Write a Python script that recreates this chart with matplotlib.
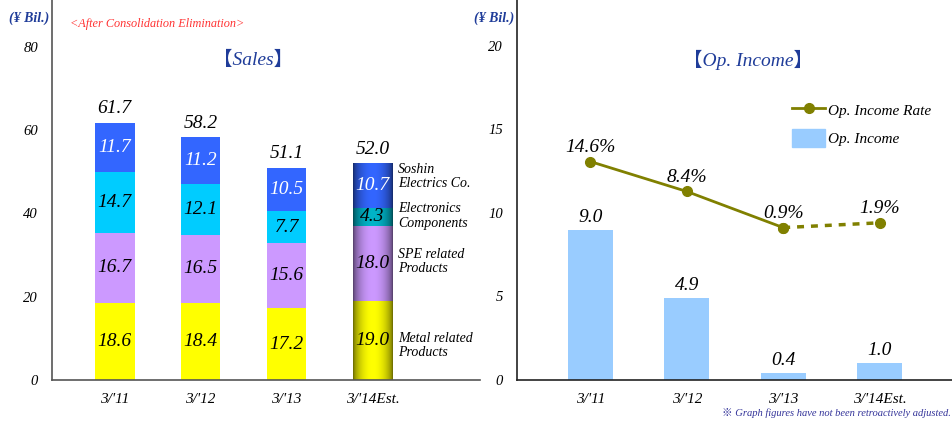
import numpy as np
import matplotlib
matplotlib.use("Agg")
import matplotlib.pyplot as plt
import matplotlib.colors as mcolors
from matplotlib.patches import Patch
from matplotlib.lines import Line2D

plt.rcParams['font.family'] = ['Liberation Serif', 'Noto Sans CJK JP', 'DejaVu Sans']
plt.rcParams['font.style'] = 'italic'

### data
years = ["3/'11", "3/'12", "3/'13", "3/'14Est."]
metal = [18.6, 18.4, 17.2, 19.0]
spe = [16.7, 16.5, 15.6, 18.0]
electronics = [14.7, 12.1, 7.7, 4.3]
soshin = [11.7, 11.2, 10.5, 10.7]
sales_total = [61.7, 58.2, 51.1, 52.0]

op_income = [9.0, 4.9, 0.4, 1.0]
op_rate = [14.6, 8.4, 0.9, 1.9]

segments = [metal, spe, electronics, soshin]
seg_colors = ['#FFFF00', '#CC99FF', '#00CCFF', '#3366FF']
est_colors = ['#FFFF00', '#CC99FF', '#00B4C8', '#3366FF']
seg_text = ['black', 'black', 'black', 'white']
seg_names = ['Metal related\nProducts', 'SPE related\nProducts',
             'Electronics\nComponents', 'Soshin\nElectrics Co.']
seg_name_shift = [-1.2, 0.5, 0.2, 2.2]

navy = '#1F3C99'
olive = '#808000'
IT = dict(fontstyle='italic')


def shade_bar(ax, rect, color):
    # cylinder-like shading: dark at both edges, bright in the middle
    rgb = np.array(mcolors.to_rgb(color))
    t = np.linspace(-1, 1, 80)
    k = 0.4 + 0.6 * np.cos(t * np.pi / 2) ** 0.6
    img = (rgb[None, :] * k[:, None])[None, :, :]
    x0, y0 = rect.get_x(), rect.get_y()
    im = ax.imshow(img, extent=(x0, x0 + rect.get_width(), y0, y0 + rect.get_height()),
                   aspect='auto', zorder=rect.get_zorder() + 0.1, interpolation='bilinear')
    im.set_clip_path(rect)


fig = plt.figure(figsize=(9.53, 4.23), dpi=100)
axL = fig.add_axes([52 / 953, 43 / 423, 428 / 953, 380 / 423])
axR = fig.add_axes([517 / 953, 43 / 423, 435 / 953, 380 / 423])

### Sales, stacked
x = np.arange(len(years))
w = 0.46
bottom = np.zeros(len(years))
for i, vals in enumerate(segments):
    bars = axL.bar(x, vals, w, bottom=bottom, color=seg_colors[i], zorder=2)
    for j, b in enumerate(bars):
        if j == len(years) - 1:
            b.set_facecolor('none')
            shade_bar(axL, b, est_colors[i])
        axL.text(b.get_x() + b.get_width() / 2, bottom[j] + vals[j] / 2, f"{vals[j]:.1f}",
                 ha='center', va='center', fontsize=14, color=seg_text[i], zorder=5, **IT)
    last = bars[-1]
    axL.annotate(seg_names[i], (last.get_x() + last.get_width(), bottom[-1] + vals[-1] / 2 + seg_name_shift[i]),
                 xytext=(4, 0), textcoords='offset points', ha='left', va='center',
                 fontsize=10, linespacing=1.15, **IT)
    bottom += np.array(vals)

for j, tot in enumerate(sales_total):
    axL.annotate(f"{tot:.1f}", (x[j], bottom[j]), xytext=(0, 4), textcoords='offset points',
                 ha='center', va='bottom', fontsize=14, **IT)

axL.set_xlim(-0.73, 4.25)
axL.set_ylim(0, 91.2)
axL.set_yticks([0, 20, 40, 60, 80])
axL.set_xticks(x)
axL.set_xticklabels(years, fontsize=11, **IT)
axL.text(0.47, 0.842, "【Sales】", transform=axL.transAxes, ha='center', va='center',
         fontsize=14, color=navy, **IT)

### Op. income, bars + rate line
xr = np.arange(len(years))
bars = axR.bar(xr, op_income, 0.47, color='#99CCFF', zorder=2)
for b, v in zip(bars, op_income):
    axR.annotate(f"{v:.1f}", (b.get_x() + b.get_width() / 2, v), xytext=(0, 3),
                 textcoords='offset points', ha='center', va='bottom', fontsize=14, **IT)
axR.set_xlim(-0.76, 3.75)
axR.set_ylim(0, 22.75)
axR.set_yticks([0, 5, 10, 15, 20])
axR.set_xticks(xr)
axR.set_xticklabels(years, fontsize=11, **IT)
axR.text(0.531, 0.842, "【Op. Income】", transform=axR.transAxes, ha='center', va='center',
         fontsize=14, color=navy, **IT)

axT = axR.twinx()
axT.set_ylim(-30.7, 48.1)
axT.axis('off')
axT.plot(xr[:3], op_rate[:3], color=olive, lw=2, marker='o', ms=7, zorder=4)
axT.plot(xr[2:], op_rate[2:], color=olive, lw=2.5, ls=(0, (2, 2)), marker='o', ms=7, zorder=4)
for xi, r in zip(xr, op_rate):
    axT.annotate(f"{r:.1f}%", (xi, r), xytext=(0, 4), textcoords='offset points',
                 ha='center', va='bottom', fontsize=14, **IT)

handles = [Line2D([], [], color=olive, lw=2, marker='o', ms=7),
           Patch(color='#99CCFF')]
axT.legend(handles, ['Op. Income Rate', 'Op. Income'], loc='upper left',
           bbox_to_anchor=(0.6, 0.77), frameon=False,
           prop=dict(family=['Liberation Serif'], style='italic', size=11),
           handlelength=2.2, handleheight=1.4, labelspacing=0.7, handletextpad=0.2)

for ax, c in ((axL, '#555555'), (axR, '#222222')):
    ax.spines[['top', 'right']].set_visible(False)
    ax.spines[['left', 'bottom']].set_color(c)
    ax.spines[['left', 'bottom']].set_linewidth(1.2)
    ax.tick_params(axis='y', length=0, pad=10, labelsize=10.5)
    ax.tick_params(axis='x', length=0, pad=9)
    for lbl in ax.get_yticklabels():
        lbl.set_fontstyle('italic')

### header / footer texts
fig.text(29 / 953, 1 - 18 / 423, "(¥ Bil.)", ha='center', va='center', fontsize=10,
         fontweight='bold', color=navy, **IT)
fig.text(494 / 953, 1 - 18 / 423, "(¥ Bil.)", ha='center', va='center', fontsize=10,
         fontweight='bold', color=navy, **IT)
fig.text(157 / 953, 1 - 24 / 423, "<After Consolidation Elimination>", ha='center',
         va='center', fontsize=8.8, color='#FF3333', **IT)
fig.text(951 / 953, 1 - 413 / 423, "※ Graph figures have not been retroactively adjusted.",
         ha='right', va='center', fontsize=7.6, color='#333399', **IT)

plt.savefig("out.png", dpi=100)
